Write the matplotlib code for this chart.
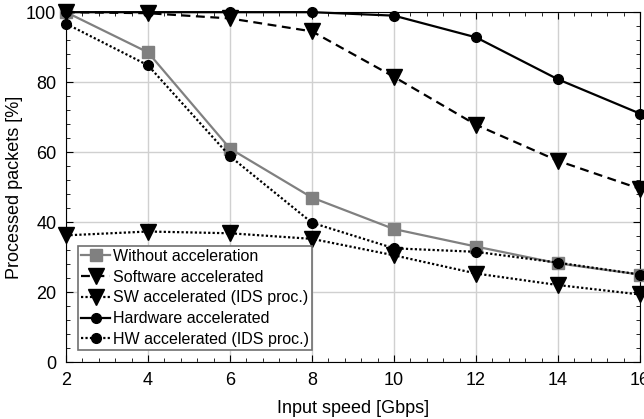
import matplotlib.pyplot as plt
from matplotlib.ticker import MultipleLocator

plt.rcParams["font.family"] = ["Liberation Sans", "DejaVu Sans"]

speed = [2, 4, 6, 8, 10, 12, 14, 16]
without_acc = [100, 88.5, 61, 47, 38, 33, 28.2, 25]
sw_acc = [100, 99.7, 98.2, 94.5, 81.5, 67.8, 57.5, 49.5]
sw_ids = [36.2, 37.3, 36.8, 35.2, 30.5, 25.3, 22, 19.3]
hw_acc = [100, 100, 100, 100, 99, 92.8, 80.8, 71]
hw_ids = [96.7, 84.8, 58.8, 39.8, 32.5, 31.5, 28.4, 25]

labels = ["Without acceleration", "Software accelerated", "SW accelerated (IDS proc.)",
          "Hardware accelerated", "HW accelerated (IDS proc.)"]

fig = plt.figure(figsize=(6.44, 4.19), dpi=100)
ax = fig.add_axes([0.1025, 0.136, 0.8913, 0.835])

ax.plot(speed, without_acc, color="#808080", lw=1.6, marker="s", ms=8, label=labels[0], clip_on=False, zorder=3)
ax.plot(speed, sw_acc, color="black", lw=1.6, ls=(0, (4, 2.5)), marker="v", ms=12, label=labels[1], clip_on=False, zorder=3)
ax.plot(speed, sw_ids, color="black", lw=1.6, ls=(0, (1, 1)), marker="v", ms=12, label=labels[2], clip_on=False, zorder=3)
ax.plot(speed, hw_acc, color="black", lw=1.6, marker="o", ms=7, label=labels[3], clip_on=False, zorder=3)
ax.plot(speed, hw_ids, color="black", lw=1.6, ls=(0, (1, 1)), marker="o", ms=7, label=labels[4], clip_on=False, zorder=3)

ax.set_xlim(2, 16)
ax.set_ylim(0, 100)
ax.xaxis.set_major_locator(MultipleLocator(2))
ax.xaxis.set_minor_locator(MultipleLocator(0.4))
ax.yaxis.set_major_locator(MultipleLocator(20))
ax.yaxis.set_minor_locator(MultipleLocator(4))
ax.tick_params(which="both", direction="in", top=True, right=True, labelsize=13)
ax.tick_params(which="major", length=5, pad=7)
ax.tick_params(which="minor", length=3)
ax.grid(which="major", color="#d0d0d0", lw=1)
ax.set_axisbelow(True)

ax.set_xlabel("Input speed [Gbps]", fontsize=13, labelpad=8)
ax.set_ylabel("Processed packets [%]", fontsize=13, labelpad=2)

leg = ax.legend(loc="lower left", bbox_to_anchor=(0.021, 0.034), fontsize=11.5, fancybox=False,
                edgecolor="#707070", framealpha=1, borderpad=0.2, labelspacing=0.36,
                handlelength=1.8, handletextpad=0.2, borderaxespad=0)
leg.get_frame().set_linewidth(1.2)

fig.savefig("out.png", dpi=100)
